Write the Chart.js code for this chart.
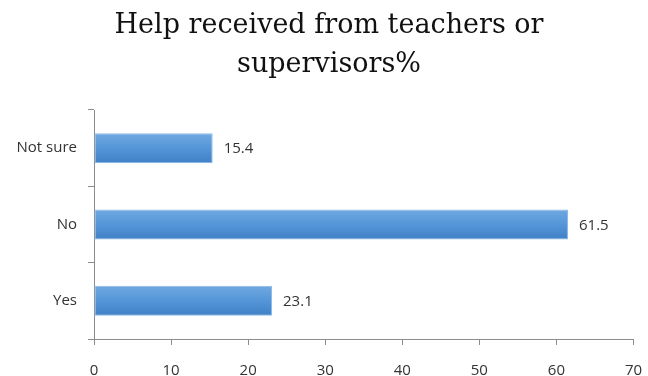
<!DOCTYPE html>
<html>
<head>
<meta charset="utf-8">
<script src="https://cdn.jsdelivr.net/npm/chart.js@4/dist/chart.umd.min.js"></script>
<style>
    html, body { margin: 0; padding: 0; background: #fff; }
    #wrap { width: 648px; height: 376px; }
</style>
</head>
<body>
<div id="wrap"><canvas id="HelpReceived"></canvas></div>
<script>
const categories = ["Not sure", "No", "Yes"];
const percentages = [15.4, 61.5, 23.1];
const xTicks = [0, 10, 20, 30, 40, 50, 60, 70];
const titleLines = ["Help received from teachers or", "supervisors%"];

const tickFont = { family: "'Open Sans', sans-serif", size: 15 };

// vertical gradient per bar, lighter on top like the office bar style
function barGradient(context) {
    const chart = context.chart;
    if (!chart.chartArea) return "rgb(84,150,215)";
    const y = chart.scales.y.getPixelForValue(context.dataIndex);
    const half = 15;
    const g = chart.ctx.createLinearGradient(0, y - half, 0, y + half);
    g.addColorStop(0, "rgb(112,168,224)");
    g.addColorStop(0.5, "rgb(84,150,216)");
    g.addColorStop(1, "rgb(64,128,198)");
    return g;
}

// writes the value next to the end of each bar
const valueLabels = {
    id: "valueLabels",
    afterDatasetsDraw(chart) {
        const ctx = chart.ctx;
        const meta = chart.getDatasetMeta(0);
        ctx.save();
        ctx.font = "15px 'Open Sans', sans-serif";
        ctx.fillStyle = "#333";
        ctx.textBaseline = "middle";
        ctx.textAlign = "left";
        meta.data.forEach((bar, i) => {
            ctx.fillText(percentages[i].toFixed(1), bar.x + 11, bar.y + 1);
        });
        ctx.restore();
    },
};

// two-line serif heading, centred a little right of the canvas middle
const headline = {
    id: "headline",
    afterDraw(chart) {
        const ctx = chart.ctx;
        ctx.save();
        ctx.font = "27px 'DejaVu Serif', serif";
        ctx.fillStyle = "#111";
        ctx.textAlign = "center";
        ctx.textBaseline = "alphabetic";
        const cx = chart.width / 2 + 5;
        titleLines.forEach((line, i) => {
            ctx.fillText(line, cx, 33 + i * 39);
        });
        ctx.restore();
    },
};

function HelpReceivedChart() {
    const ctx = document.getElementById("HelpReceived");

    new Chart(ctx, {
        type: "bar",
        data: {
            labels: categories,
            datasets: [
                {
                    label: "Help received",
                    data: percentages,
                    backgroundColor: barGradient,
                    borderColor: "rgb(140,185,232)",
                    borderWidth: 1,
                    borderSkipped: false,
                    categoryPercentage: 1,
                    barPercentage: 0.393,
                },
            ],
        },
        options: {
            indexAxis: "y",
            responsive: true,
            maintainAspectRatio: false,
            animation: false,
            layout: {
                padding: { left: 0, right: 14.5, top: 110, bottom: 0 },
            },
            scales: {
                x: {
                    min: 0,
                    max: 70,
                    afterBuildTicks: (scale) => {
                        scale.ticks = xTicks.map((v) => ({ value: v }));
                    },
                    afterFit: (scale) => {
                        scale.height = 37;
                        scale.paddingLeft = 0;
                        scale.paddingRight = 0;
                    },
                    grid: {
                        drawOnChartArea: false,
                        tickLength: 6,
                        color: "#8c8c8c",
                    },
                    border: { color: "#8c8c8c" },
                    ticks: {
                        padding: 17,
                        color: "#333",
                        font: tickFont,
                    },
                },
                y: {
                    afterFit: (scale) => {
                        scale.width = 94;
                    },
                    grid: {
                        drawOnChartArea: false,
                        tickLength: 6,
                        color: "#8c8c8c",
                    },
                    border: { color: "#8c8c8c" },
                    ticks: {
                        padding: 11,
                        color: "#333",
                        font: tickFont,
                    },
                },
            },
            plugins: {
                legend: { display: false },
                tooltip: { enabled: false },
                title: { display: false },
            },
        },
        plugins: [valueLabels, headline],
    });
}

HelpReceivedChart()
</script>
</body>
</html>
